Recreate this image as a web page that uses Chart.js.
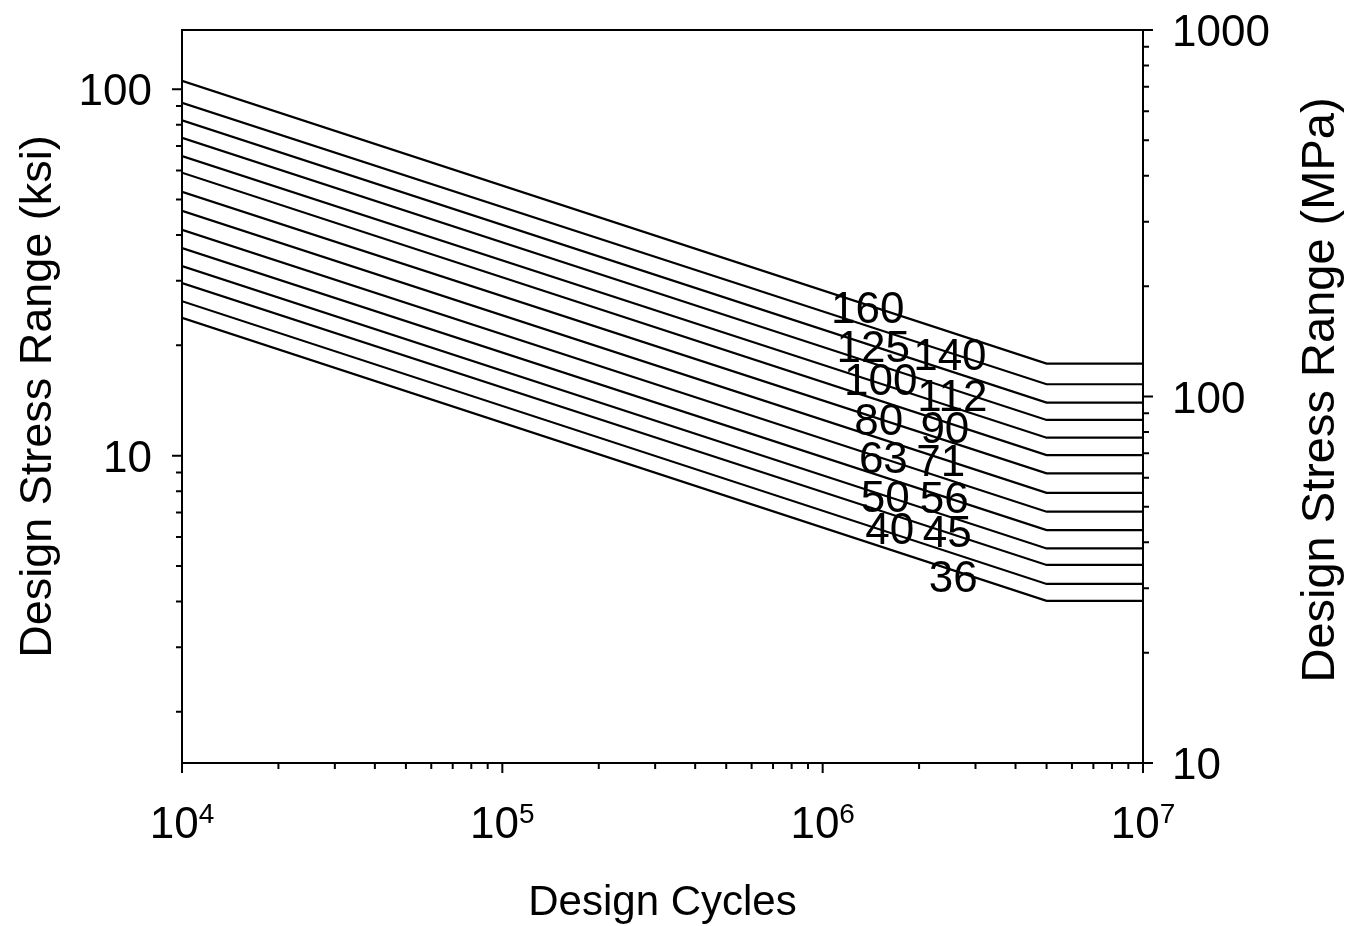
<!DOCTYPE html>
<html lang="en">
<head>
    <meta charset="UTF-8">
    <title>Design Stress Range vs Design Cycles</title>
    <script src="https://cdn.jsdelivr.net/npm/chart.js"></script>
    <style>
        body { margin: 0; background: #fff; }
        #wrap { width: 1345px; height: 926px; position: relative; }
    </style>
</head>
<body>
    <div id="wrap"><canvas id="snChart"></canvas></div>

    <script>
        // detail categories (MPa at 2 million cycles), top curve first
        const detailClasses = [160, 140, 125, 112, 100, 90, 80, 71, 63, 56, 50, 45, 40, 36];
        // cycles where each curve is sampled: start, cut-off (becomes flat), end
        const curveCycles = [1e4, 5e6, 1e7];
        // stress range (MPa) read at 10^4 cycles
        const stressAtStart = [727, 633, 567, 508, 453, 408, 362, 321, 285, 254, 227, 204, 182, 164];
        // stress range (MPa) read at the cut-off, held flat to 10^7
        const stressAtCutoff = [123, 108, 96.2, 86.3, 77.2, 69.2, 61.7, 54.6, 48.5, 43.2, 38.5, 34.7, 30.8, 27.7];

        // where the class numbers are written (cycles, MPa)
        const labelCycles = [1.383e6, 2.495e6, 1.439e6, 2.54e6, 1.519e6, 2.407e6, 1.497e6, 2.338e6, 1.547e6, 2.398e6, 1.569e6, 2.45e6, 1.62e6, 2.558e6];
        const labelStress = [175, 130.6, 137.3, 101, 111.6, 82.6, 86.8, 67.1, 68.2, 53.2, 53.5, 42.95, 43.9, 32.4];

        // axis ticks
        const cycleTicks = [1e4,2e4,3e4,4e4,5e4,6e4,7e4,8e4,9e4,1e5,2e5,3e5,4e5,5e5,6e5,7e5,8e5,9e5,1e6,2e6,3e6,4e6,5e6,6e6,7e6,8e6,9e6,1e7];
        const cycleMajor = [1e4, 1e5, 1e6, 1e7];
        const cycleExp = ['4', '5', '6', '7'];
        const mpaTicks = [10,20,30,40,50,60,70,80,90,100,200,300,400,500,600,700,800,900,1000];
        const mpaMajor = [10, 100, 1000];
        const ksiTicks = [2,3,4,5,6,7,8,9,10,20,30,40,50,60,70,80,90,100];
        const ksiMajor = [10, 100];

        const MPA_PER_KSI = 6.895;
        const FONT = '"Liberation Sans", Arial, sans-serif';

        const datasets = detailClasses.map((c, i) => ({
            label: String(c),
            data: [
                { x: curveCycles[0], y: stressAtStart[i] },
                { x: curveCycles[1], y: stressAtCutoff[i] },
                { x: curveCycles[2], y: stressAtCutoff[i] }
            ],
            borderColor: '#000',
            borderWidth: 2.2,
            pointRadius: 0,
            fill: false,
            tension: 0,
            yAxisID: 'y'
        }));

        // frame, ticks and all the text
        const decorPlugin = {
            id: 'decor',
            afterDraw(chart) {
                const ctx = chart.ctx;
                const a = chart.chartArea;
                const xs = chart.scales.x, ys = chart.scales.y, yk = chart.scales.yk;
                ctx.save();
                ctx.strokeStyle = '#000';
                ctx.fillStyle = '#000';
                ctx.lineWidth = 2;

                ctx.beginPath();
                ctx.rect(a.left, a.top, a.right - a.left, a.bottom - a.top);
                ctx.stroke();

                ctx.beginPath();
                cycleTicks.forEach(v => {
                    const px = xs.getPixelForValue(v);
                    const len = cycleMajor.includes(v) ? 10 : 6;
                    ctx.moveTo(px, a.bottom); ctx.lineTo(px, a.bottom + len);
                });
                mpaTicks.forEach(v => {
                    const py = ys.getPixelForValue(v);
                    const len = mpaMajor.includes(v) ? 10 : 6;
                    ctx.moveTo(a.right, py); ctx.lineTo(a.right + len, py);
                });
                ksiTicks.forEach(v => {
                    const py = yk.getPixelForValue(v);
                    const len = ksiMajor.includes(v) ? 10 : 6;
                    ctx.moveTo(a.left, py); ctx.lineTo(a.left - len, py);
                });
                ctx.stroke();

                // tick labels
                ctx.textBaseline = 'alphabetic';
                ctx.font = '44px ' + FONT;
                ctx.textAlign = 'right';
                ksiMajor.forEach(v => {
                    ctx.fillText(String(v), 152, yk.getPixelForValue(v) + 16);
                });
                ctx.textAlign = 'left';
                mpaMajor.forEach(v => {
                    ctx.fillText(String(v), 1172, ys.getPixelForValue(v) + 16);
                });
                cycleMajor.forEach((v, i) => {
                    const px = xs.getPixelForValue(v);
                    ctx.font = '44px ' + FONT;
                    const wBase = ctx.measureText('10').width;
                    ctx.font = '28px ' + FONT;
                    const wExp = ctx.measureText(cycleExp[i]).width;
                    const x0 = px - (wBase + wExp) / 2;
                    ctx.font = '44px ' + FONT;
                    ctx.fillText('10', x0, 838);
                    ctx.font = '28px ' + FONT;
                    ctx.fillText(cycleExp[i], x0 + wBase, 823);
                });

                // class numbers on the curves
                ctx.font = '44px ' + FONT;
                ctx.textAlign = 'center';
                detailClasses.forEach((c, i) => {
                    const px = xs.getPixelForValue(labelCycles[i]);
                    const py = ys.getPixelForValue(labelStress[i]);
                    ctx.fillText(String(c), px, py + 16);
                });

                // axis titles
                ctx.font = '42px ' + FONT;
                ctx.fillText('Design Cycles', (a.left + a.right) / 2, 915);

                ctx.font = '45px ' + FONT;
                ctx.save();
                ctx.translate(51, (a.top + a.bottom) / 2);
                ctx.rotate(-Math.PI / 2);
                ctx.fillText('Design Stress Range (ksi)', 0, 0);
                ctx.restore();

                ctx.font = '47px ' + FONT;
                ctx.save();
                ctx.translate(1334, 390);
                ctx.rotate(-Math.PI / 2);
                ctx.fillText('Design Stress Range (MPa)', 0, 0);
                ctx.restore();

                ctx.restore();
            }
        };

        new Chart(document.getElementById('snChart'), {
            type: 'line',
            data: { datasets: datasets },
            options: {
                responsive: true,
                maintainAspectRatio: false,
                animation: false,
                layout: { padding: { top: 30, left: 0, right: 0, bottom: 0 } },
                plugins: { legend: { display: false }, tooltip: { enabled: false } },
                scales: {
                    x: {
                        type: 'logarithmic', min: 1e4, max: 1e7, position: 'bottom',
                        ticks: { display: false }, grid: { display: false }, border: { display: false },
                        afterFit(s) { s.height = 926 - 763; }
                    },
                    yk: {
                        type: 'logarithmic', position: 'left',
                        min: 10 / MPA_PER_KSI, max: 1000 / MPA_PER_KSI,
                        ticks: { display: false }, grid: { display: false }, border: { display: false },
                        afterFit(s) { s.width = 182; }
                    },
                    y: {
                        type: 'logarithmic', position: 'right', min: 10, max: 1000,
                        ticks: { display: false }, grid: { display: false }, border: { display: false },
                        afterFit(s) { s.width = 1345 - 1143; }
                    }
                }
            },
            plugins: [decorPlugin]
        });
    </script>
</body>
</html>
